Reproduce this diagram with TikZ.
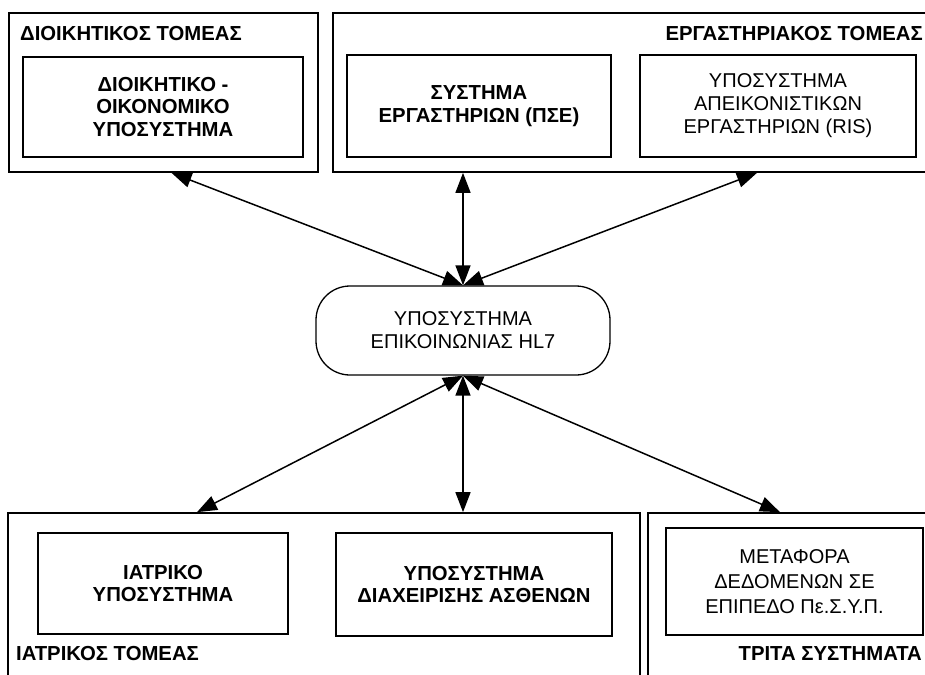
\documentclass[tikz,border=0pt]{standalone}
\usepackage{fontspec}
\setmainfont{Liberation Sans}
\usetikzlibrary{arrows.meta}
\tikzset{
  x=1pt, y=-1pt,
  outerbox/.style={draw, line width=1.7pt, inner sep=0pt},
  innerbox/.style={draw, line width=1.3pt, align=center, inner sep=0pt, font=\fontsize{20}{23}\selectfont},
  boldtxt/.style={font=\fontsize{20.3}{22.5}\selectfont\bfseries},
  titletxt/.style={inner sep=0pt, font=\fontsize{20.3}{22}\selectfont\bfseries},
  hubbox/.style={draw, line width=1.3pt, rounded corners=34pt, align=center, inner sep=0pt, font=\fontsize{20}{23}\selectfont},
  link/.style={line width=1.5pt, {Triangle[length=20pt,width=15pt]}-{Triangle[length=20pt,width=15pt]}}
}
\begin{document}
\begin{tikzpicture}
\useasboundingbox (0,0) rectangle (925,674);
\clip (0,0) rectangle (925,674);
\fill[white] (0,0) rectangle (925,674);
% outer sector boxes
\node[outerbox, minimum width=309pt, minimum height=159pt] (adm) at (163.5,92.5) {};
\node[outerbox, minimum width=602pt, minimum height=159pt] (lab) at (634,92.5) {};
\node[outerbox, minimum width=632pt, minimum height=180pt] (med) at (324,603) {};
\node[outerbox, minimum width=290pt, minimum height=180pt] (third) at (793,603) {};
% titles
\node[titletxt, anchor=base west] (admt) at (20,41) {ΔΙΟΙΚΗΤΙΚΟΣ ΤΟΜΕΑΣ};
\node[titletxt, anchor=base east] (labt) at (923,41) {ΕΡΓΑΣΤΗΡΙΑΚΟΣ ΤΟΜΕΑΣ};
\node[titletxt, anchor=base west] (medt) at (16,660) {ΙΑΤΡΙΚΟΣ ΤΟΜΕΑΣ};
\node[titletxt, anchor=base east] (thirdt) at (922,660) {ΤΡΙΤΑ ΣΥΣΤΗΜΑΤΑ};
% inner boxes
\node[innerbox, boldtxt, minimum width=280pt, minimum height=100pt] (fin) at (163,107) {ΔΙΟΙΚΗΤΙΚΟ -\\ΟΙΚΟΝΟΜΙΚΟ\\ΥΠΟΣΥΣΤΗΜΑ};
\node[innerbox, boldtxt, minimum width=264pt, minimum height=102pt] (lis) at (479,106) {ΣΥΣΤΗΜΑ\\ΕΡΓΑΣΤΗΡΙΩΝ (ΠΣΕ)};
\node[innerbox, minimum width=276pt, minimum height=102pt] (ris) at (778,106) {ΥΠΟΣΥΣΤΗΜΑ\\ΑΠΕΙΚΟΝΙΣΤΙΚΩΝ\\ΕΡΓΑΣΤΗΡΙΩΝ (RIS)};
\node[innerbox, boldtxt, minimum width=250pt, minimum height=101pt] (clin) at (163,583.5) {ΙΑΤΡΙΚΟ\\ΥΠΟΣΥΣΤΗΜΑ};
\node[innerbox, boldtxt, minimum width=276pt, minimum height=103pt] (adt) at (474,584.5) {ΥΠΟΣΥΣΤΗΜΑ\\ΔΙΑΧΕΙΡΙΣΗΣ ΑΣΘΕΝΩΝ};
\node[innerbox, minimum width=257pt, minimum height=107pt, font=\fontsize{20}{25}\selectfont] (pesyp) at (794.5,581.5) {ΜΕΤΑΦΟΡΑ\\ΔΕΔΟΜΕΝΩΝ ΣΕ\\ΕΠΙΠΕΔΟ Πε.Σ.Υ.Π.};
% hub
\node[hubbox, minimum width=294pt, minimum height=89pt] (hl7) at (463,330.5) {ΥΠΟΣΥΣΤΗΜΑ\\ΕΠΙΚΟΙΝΩΝΙΑΣ HL7};
% connectors
\draw[link] ([xshift=8pt]adm.south) -- (hl7.north);
\draw[link] (lab.south -| hl7.north) -- (hl7.north);
\draw[link] ([xshift=123pt]lab.south) -- (hl7.north);
\draw[link] ([xshift=-127pt]med.north) -- (hl7.south);
\draw[link] (med.north -| hl7.south) -- (hl7.south);
\draw[link] ([xshift=-13pt]third.north) -- (hl7.south);
\end{tikzpicture}
\end{document}
